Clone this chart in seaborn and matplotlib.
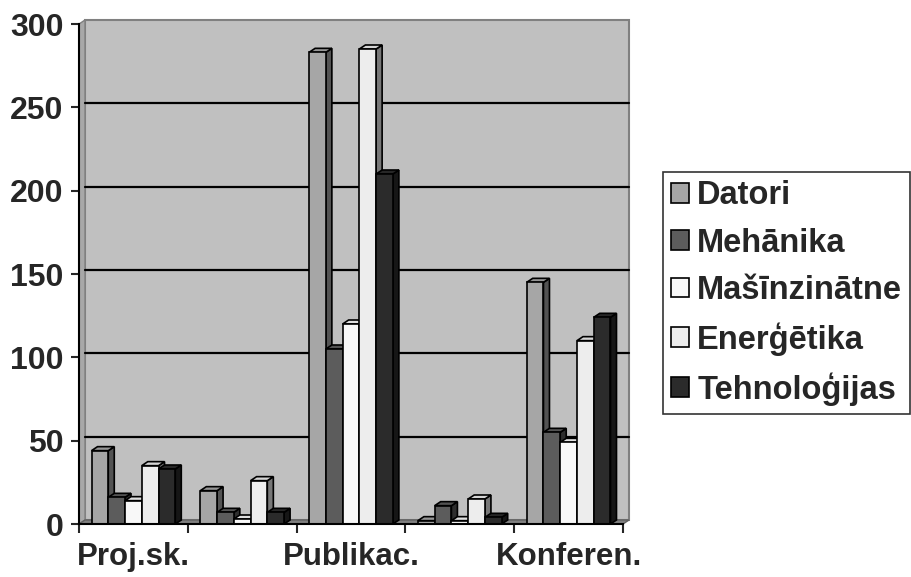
import numpy as np
import pandas as pd
import seaborn as sns
import matplotlib.pyplot as plt
from matplotlib.patches import Polygon, Rectangle, Patch
import matplotlib.colors as mcolors

# dati nolasīti no attēla
categories = ["Proj.sk.", "Kat.2", "Publikac.", "Kat.4", "Konferen."]
tick_labels = ["Proj.sk.", "", "Publikac.", "", "Konferen."]
series = ["Datori", "Mehānika", "Mašīnzinātne", "Enerģētika", "Tehnoloģijas"]
datori = [44, 20, 283, 2, 145]
mehanika = [16, 7, 105, 11, 55]
masinzinatne = [14, 3, 120, 2, 49]
energetika = [35, 26, 285, 15, 110]
tehnologijas = [33, 7, 210, 4, 124]
colors = ["#A6A6A6", "#5C5C5C", "#F8F8F8", "#EDEDED", "#2B2B2B"]

values = [datori, mehanika, masinzinatne, energetika, tehnologijas]
df = pd.DataFrame([(c, s, v[i]) for s, v in zip(series, values) for i, c in enumerate(categories)],
                  columns=["cat", "series", "val"])

sns.set_style("white")
plt.rcParams['font.family'] = ['Liberation Sans', 'DejaVu Sans']
plt.rcParams['font.weight'] = 'bold'

W, H = 911, 577
fig = plt.figure(figsize=(W / 100, H / 100), dpi=100)
ax_px = (79, 53, 544, 500)
ax = fig.add_axes([ax_px[0] / W, ax_px[1] / H, ax_px[2] / W, ax_px[3] / H])

sns.barplot(data=df, x="cat", y="val", hue="series", order=categories, hue_order=series,
            palette=colors, saturation=1, width=0.77, edgecolor="black", linewidth=1.2,
            legend=False, ax=ax)
bars = list(ax.patches)

ax.set_xlim(-0.5, 4.5)
ax.set_ylim(0, 300)
ax.set_facecolor("none")

# 3D dziļums
dx = 6 * 5 / ax_px[2]
dy = 4 * 300 / ax_px[3]

ax.add_patch(Rectangle((-0.5 + dx, dy), 5, 300, facecolor="#C0C0C0", edgecolor="#808080",
                       lw=1.5, zorder=0, clip_on=False))
ax.add_patch(Polygon([(-0.5, 0), (-0.5 + dx, dy), (-0.5 + dx, 300 + dy), (-0.5, 300)],
                     facecolor="#A8A8A8", edgecolor="#808080", lw=1, zorder=0.2, clip_on=False))
ax.add_patch(Polygon([(-0.5, 0), (4.5, 0), (4.5 + dx, dy), (-0.5 + dx, dy)],
                     facecolor="#808080", edgecolor="#606060", lw=1, zorder=0.3, clip_on=False))
for yv in range(50, 300, 50):
    ax.plot([-0.5 + dx, 4.5 + dx], [yv + dy, yv + dy], color="black", lw=1.6, zorder=0.5,
            clip_on=False)

for b in bars:
    x0, w, h = b.get_x(), b.get_width(), b.get_height()
    rgb = np.array(mcolors.to_rgb(b.get_facecolor()))
    z = 3 + (x0 + 1) * 0.1
    side = Polygon([(x0 + w, 0), (x0 + w + dx, dy), (x0 + w + dx, h + dy), (x0 + w, h)],
                   facecolor=rgb * 0.5, edgecolor="black", lw=1.2, zorder=z, clip_on=False)
    top = Polygon([(x0, h), (x0 + w, h), (x0 + w + dx, h + dy), (x0 + dx, h + dy)],
                  facecolor=rgb * 0.9, edgecolor="black", lw=1.2, zorder=z, clip_on=False)
    ax.add_patch(side)
    ax.add_patch(top)
    b.set_zorder(z + 0.001)

for s in ["top", "right"]:
    ax.spines[s].set_visible(False)
for s in ["left", "bottom"]:
    ax.spines[s].set_color("black")
    ax.spines[s].set_linewidth(1.5)
    ax.spines[s].set_zorder(10)

ax.set_yticks(range(0, 301, 50))
ax.tick_params(axis="y", direction="out", length=6, width=1.5, pad=5, labelsize=23, left=True)
ax.set_xticks(np.arange(-0.5, 5, 1))
ax.set_xticklabels([])
ax.set_xticks(range(len(categories)), minor=True)
ax.set_xticklabels(tick_labels, minor=True, fontsize=22.5, fontweight="bold")
ax.tick_params(axis="x", which="major", direction="out", length=6.5, width=1.5, bottom=True)
ax.tick_params(axis="x", which="minor", length=0, pad=13)
for t in ax.get_yticklabels():
    t.set_fontweight("bold")
ax.set_xlabel("")
ax.set_ylabel("")
ax.grid(False)

handles = [Patch(facecolor=c, edgecolor="black", lw=1.2) for c in colors]
leg = ax.legend(handles, series, loc="center left", bbox_to_anchor=(663 / W, 1 - 293 / H),
                bbox_transform=fig.transFigure, fontsize=23.5, frameon=True, fancybox=False,
                edgecolor="black", handlelength=0.55, handleheight=0.55, handletextpad=0.25,
                labelspacing=0.5, borderpad=0.25, borderaxespad=0)
leg.get_frame().set_linewidth(1.2)
for t in leg.get_texts():
    t.set_fontweight("bold")

fig.savefig("out.png", dpi=100)
